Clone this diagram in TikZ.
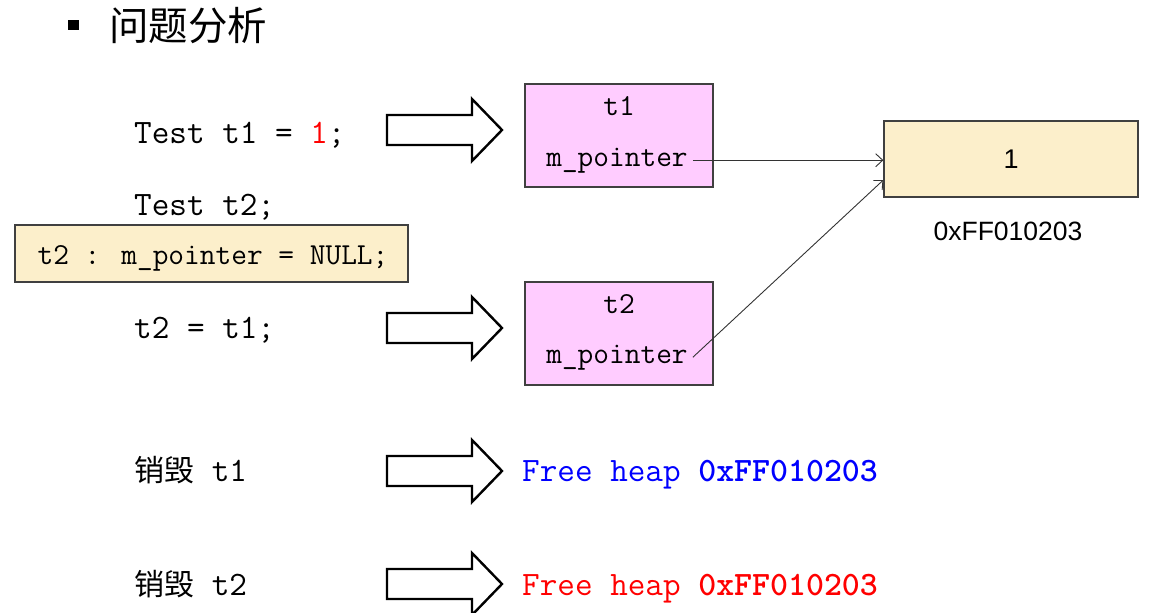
\documentclass[tikz,border=0pt]{standalone}
\usepackage{fontspec}
\setmainfont{Liberation Sans}
\newfontfamily\cjk{Noto Sans CJK SC}
\usetikzlibrary{calc, arrows.meta}
\definecolor{ObjPink}{RGB}{255, 204, 255}
\definecolor{HeapCream}{RGB}{252, 239, 203}
\definecolor{EdgeGrey}{RGB}{64, 64, 64}
\definecolor{FreeBlue}{RGB}{0, 0, 255}
\definecolor{FreeRed}{RGB}{255, 0, 0}

\tikzset{
    codeline/.style={font=\ttfamily\fontsize{34.2}{37}\selectfont, anchor=base west, inner sep=0pt},
    boxcode/.style={font=\ttfamily\fontsize{30.5}{33}\selectfont, anchor=base, inner sep=0pt},
    membox/.style={draw=EdgeGrey, line width=1.3pt, inner sep=0pt},
    link/.style={-{Straight Barb[length=7pt,width=13pt]}, line width=0.9pt, draw=black!80},
    fatarrow/.pic={
        \draw[line width=2.4pt, line join=miter]
            (0,-15) -- (85,-15) -- (85,-31) -- (115,0) -- (85,31) -- (85,15) -- (0,15) -- cycle;
    }
}

\begin{document}
\begin{tikzpicture}[x=1pt, y=-1pt]
    \useasboundingbox (0,0) rectangle (1160,613);

    % Titulo
    \fill (68,20) rectangle (79,30);
    \node[anchor=west, inner sep=0pt, font=\cjk\fontsize{39.5}{42}\selectfont] (title) at (109,26) {问题分析};

    % Codigo
    \node[codeline] (line1) at (134,143) {Test t1 = {\color{FreeRed}1};};
    \node[codeline] (line2) at (134,215) {Test t2;};
    \node[codeline] (line3) at (134,338) {t2 = t1;};

    \node[membox, fill=HeapCream, minimum width=393pt, minimum height=57pt] (nullbox) at (211.5,253.5) {};
    \node[boxcode] (nulltext) at (213,264) {t2 : m\_pointer = NULL;};

    % Flechas huecas
    \foreach \y in {130,328,471,584}
        \pic at (387,\y) {fatarrow};

    % Objetos t1 y t2
    \node[membox, fill=ObjPink, minimum width=188pt, minimum height=103pt] (obj1) at (619,135.5) {};
    \node[boxcode] (name1) at (619,115) {t1};
    \node[boxcode] (ptr1) at (617,166) {m\_pointer};

    \node[membox, fill=ObjPink, minimum width=188pt, minimum height=103pt] (obj2) at (619,333.5) {};
    \node[boxcode] (name2) at (619,313) {t2};
    \node[boxcode] (ptr2) at (617,363) {m\_pointer};

    % Memoria del heap
    \node[membox, fill=HeapCream, minimum width=254pt, minimum height=76pt,
          font=\fontsize{27}{29}\selectfont] (val) at (1011,159) {1};
    \node[anchor=base, inner sep=0pt, font=\fontsize{26.5}{28}\selectfont] (addr) at (1008,240) {0xFF010203};

    \draw[link] ([xshift=5pt]ptr1.east) -- (val.west |- ptr1.east);
    \draw[link] ([xshift=5pt]ptr2.east) -- ($(val.west)+(0,21)$);

    % Destruccion
    \node[anchor=base west, inner sep=0pt, font=\fontsize{30}{32}\selectfont] (kill1) at (134,481)
        {{\cjk 销毁}{\ttfamily\fontsize{34.2}{37}\selectfont\ t1}};
    \node[anchor=base west, inner sep=0pt, font=\fontsize{30}{32}\selectfont] (kill2) at (134,595)
        {{\cjk 销毁}{\ttfamily\fontsize{34.2}{37}\selectfont\ t2}};

    \node[codeline, text=FreeBlue] (free1) at (522,481) {Free heap \textbf{0xFF010203}};
    \node[codeline, text=FreeRed] (free2) at (522,595) {Free heap \textbf{0xFF010203}};
\end{tikzpicture}
\end{document}
